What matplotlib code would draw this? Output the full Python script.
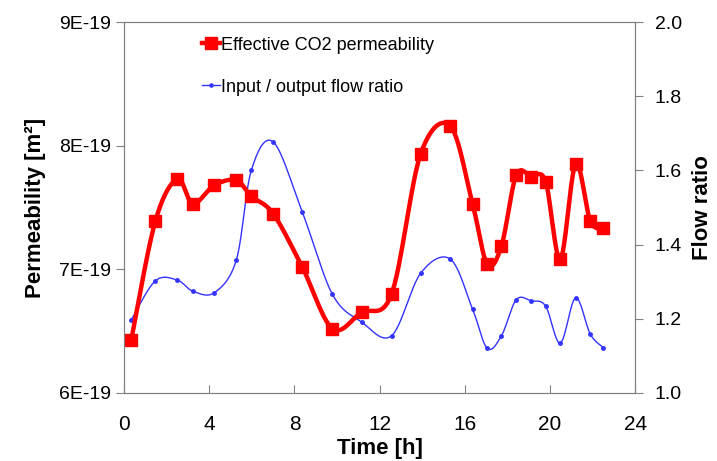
import numpy as np
import matplotlib.pyplot as plt
from matplotlib.ticker import FuncFormatter

plt.rcParams['font.family'] = ['Liberation Sans', 'DejaVu Sans']

# time [h]
time_h = [0.34, 1.47, 2.50, 3.23, 4.24, 5.27, 5.98, 7.00, 8.36, 9.78, 11.15, 12.56,
          13.92, 15.31, 16.36, 17.05, 17.72, 18.41, 19.12, 19.79, 20.48, 21.20, 21.89, 22.50]
# effective CO2 permeability [m2]
perm = [6.43, 7.39, 7.73, 7.53, 7.68, 7.72, 7.59, 7.45, 7.02, 6.52, 6.65, 6.80,
        7.93, 8.16, 7.53, 7.04, 7.19, 7.76, 7.75, 7.71, 7.08, 7.85, 7.39, 7.33]
perm = [p * 1e-19 for p in perm]
# input / output flow ratio
flow = [1.197, 1.302, 1.304, 1.274, 1.270, 1.358, 1.601, 1.677, 1.489, 1.266, 1.191, 1.154,
        1.322, 1.361, 1.226, 1.120, 1.154, 1.251, 1.248, 1.234, 1.134, 1.256, 1.158, 1.122]


def smooth(x, y, n=30):
    # excel-like smoothed line: bezier through points, control pts from neighbours
    x = np.asarray(x, float)
    y = np.asarray(y, float)
    px = np.concatenate([[x[0]], x, [x[-1]]])
    py = np.concatenate([[y[0]], y, [y[-1]]])
    t = np.linspace(0, 1, n)
    xs, ys = [], []
    for i in range(1, len(px) - 2):
        x0, x1, x2, x3 = px[i-1:i+3]
        y0, y1, y2, y3 = py[i-1:i+3]
        c1x, c1y = x1 + (x2 - x0) / 6, y1 + (y2 - y0) / 6
        c2x, c2y = x2 - (x3 - x1) / 6, y2 - (y3 - y1) / 6
        bx = (1-t)**3*x1 + 3*(1-t)**2*t*c1x + 3*(1-t)*t**2*c2x + t**3*x2
        by = (1-t)**3*y1 + 3*(1-t)**2*t*c1y + 3*(1-t)*t**2*c2y + t**3*y2
        xs.append(bx)
        ys.append(by)
    return np.concatenate(xs), np.concatenate(ys)


fig = plt.figure(figsize=(7.17, 4.61), dpi=100)
ax = fig.add_axes([0.173, 0.148, 0.713, 0.804])
ax2 = ax.twinx()

ax.set_zorder(ax2.get_zorder() + 1)
ax.patch.set_visible(False)

# blue line on right axis
sx, sy = smooth(time_h, flow)
ax2.plot(sx, sy, color='#3333ff', lw=1.0)
ax2.plot(time_h, flow, ls='none', marker='o', ms=2.5, color='#3333ff')

# red line on left axis
sx, sy = smooth(time_h, perm)
ax.plot(sx, sy, color='red', lw=3.2)
ax.plot(time_h, perm, ls='none', marker='s', ms=9, color='red')

ax.set_xlim(0, 24)
ax.set_xticks(range(0, 25, 4))
ax.set_ylim(6e-19, 9e-19)
ax.set_yticks([6e-19, 7e-19, 8e-19, 9e-19])
ax.yaxis.set_major_formatter(FuncFormatter(lambda v, p: '%dE-19' % round(v / 1e-19)))
ax2.set_ylim(1.0, 2.0)
ax2.set_yticks(np.arange(1.0, 2.01, 0.2))
ax2.yaxis.set_major_formatter(FuncFormatter(lambda v, p: '%.1f' % v))

for a in (ax, ax2):
    for s in a.spines.values():
        s.set_color('#808080')
    a.tick_params(labelsize=14, color='#808080', length=6)
ax.tick_params(axis='x', direction='in', pad=16, labelsize=15)
ax2.tick_params(axis='y', direction='out', pad=8)

ax.set_xlabel('Time [h]', fontsize=16, fontweight='bold', labelpad=3)
ax.set_ylabel('Permeability [m²]', fontsize=16, fontweight='bold', labelpad=9)
ax2.set_ylabel('Flow ratio', fontsize=16, fontweight='bold', labelpad=7)

# legend
ax.plot([], [], color='red', lw=3.2, marker='s', ms=9, label='Effective CO2 permeability')
ax.plot([], [], color='#3333ff', lw=1.0, marker='o', ms=2.5, label='Input / output flow ratio')
h, l = ax.get_legend_handles_labels()
ax.legend(h[-2:], l[-2:], loc='upper left', bbox_to_anchor=(0.12, 1.005), frameon=False,
          fontsize=13, handlelength=1.0, handletextpad=0.1, labelspacing=1.4,
          markerscale=0.9)

fig.savefig('out.png', dpi=100)
